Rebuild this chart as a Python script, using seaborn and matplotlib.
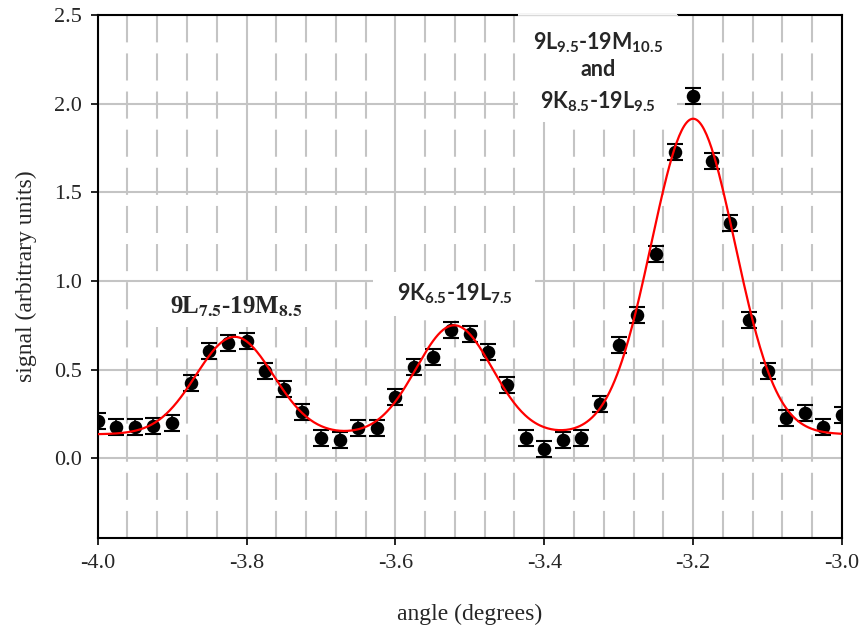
import numpy as np
import pandas as pd
import matplotlib
matplotlib.use("Agg")
import matplotlib.pyplot as plt
from matplotlib.ticker import MultipleLocator, FormatStrFormatter
from matplotlib.patches import Rectangle
import seaborn as sns

# Measured signal versus angle, with a constant uncertainty
angle = [-4.000, -3.975, -3.950, -3.925, -3.900, -3.875, -3.850, -3.825, -3.800,
         -3.775, -3.750, -3.725, -3.700, -3.675, -3.650, -3.625, -3.600, -3.575,
         -3.550, -3.525, -3.500, -3.475, -3.450, -3.425, -3.400, -3.375, -3.350,
         -3.325, -3.300, -3.275, -3.250, -3.225, -3.200, -3.175, -3.150, -3.125,
         -3.100, -3.075, -3.050, -3.025, -3.000]
signal = [0.212, 0.175, 0.178, 0.184, 0.197, 0.423, 0.606, 0.652, 0.664,
          0.494, 0.389, 0.259, 0.115, 0.103, 0.169, 0.173, 0.348, 0.517,
          0.573, 0.726, 0.701, 0.598, 0.414, 0.116, 0.051, 0.103, 0.116,
          0.305, 0.639, 0.809, 1.153, 1.730, 2.041, 1.678, 1.326, 0.782,
          0.494, 0.229, 0.254, 0.178, 0.244]
signal_err = 0.045

# Three-Gaussian fit on a flat background
fit_baseline = 0.135
peak_centers = [-3.816, -3.521, -3.200]
peak_heights = [0.550, 0.615, 1.780]
peak_widths = [0.052, 0.051, 0.056]

# Peak assignments
peak_labels = [r"9L$_{\mathbf{7.5}}$-19M$_{\mathbf{8.5}}$",
               r"9K$_{\mathbf{6.5}}$-19L$_{\mathbf{7.5}}$"]
top_label_lines = [r"9L$_{\mathbf{9.5}}$-19M$_{\mathbf{10.5}}$",
                   "and",
                   r"9K$_{\mathbf{8.5}}$-19L$_{\mathbf{9.5}}$"]

x_ticks = [-4.0, -3.8, -3.6, -3.4, -3.2, -3.0]
y_ticks = [0.0, 0.5, 1.0, 1.5, 2.0, 2.5]

sns.set_style("ticks")
plt.rcParams["font.family"] = ["Liberation Serif", "DejaVu Serif"]
plt.rcParams["axes.unicode_minus"] = False
plt.rcParams["mathtext.fontset"] = "custom"
plt.rcParams["mathtext.rm"] = "Lato"
plt.rcParams["mathtext.bf"] = "Lato:bold"

data = pd.DataFrame({"angle": angle, "signal": signal})
x_fit = np.linspace(-4.0, -3.0, 600)
y_fit = np.full_like(x_fit, fit_baseline)
for c, h, w in zip(peak_centers, peak_heights, peak_widths):
    y_fit += h * np.exp(-0.5 * ((x_fit - c) / w) ** 2)
fit = pd.DataFrame({"angle": x_fit, "signal": y_fit})

fig = plt.figure(figsize=(8.62, 6.28), dpi=100)
ax = fig.add_axes([0.1133, 0.1438, 0.8635, 0.8323])

ax.set_xlim(-4.0, -3.0)
ax.set_ylim(-0.448, 2.5)
ax.set_xticks(x_ticks)
ax.set_yticks(y_ticks)
ax.xaxis.set_minor_locator(MultipleLocator(0.04))
ax.xaxis.set_major_formatter(FormatStrFormatter("%.1f"))
ax.yaxis.set_major_formatter(FormatStrFormatter("%.1f"))

grid_color = "#c4c4c4"
ax.set_axisbelow(True)
ax.grid(which="major", axis="both", color=grid_color, lw=1.5, ls="-")
ax.grid(which="minor", axis="x", color=grid_color, lw=1.5, ls=(0, (13, 5.3)))

for s in ax.spines.values():
    s.set_color("black")
    s.set_linewidth(1.5)
ax.tick_params(which="major", direction="out", length=5, width=1.2,
               color="black", labelsize=16, pad=6.5)
ax.tick_params(which="minor", length=0)

# white label backgrounds over the grid
boxes = [(-3.943, 0.741, 0.242, 0.254, 1.2),
         (-3.630, 0.803, 0.217, 0.248, 1.2),
         (-3.435, 1.898, 0.213, 0.61, 2.6)]
for x0, y0, w, h, z in boxes:
    ax.add_patch(Rectangle((x0, y0), w, h, facecolor="white", edgecolor="none",
                           zorder=z, clip_on=False))
# faint trace of the frame behind the top label
ax.plot([-3.435, -3.222], [2.5, 2.5], color="#d8d8d8", lw=1.0,
        zorder=2.7, clip_on=False)

ax.errorbar(angle, signal, yerr=signal_err, fmt="none", ecolor="black",
            elinewidth=1.2, capsize=5.8, capthick=1.5, zorder=3)
sns.scatterplot(data=data, x="angle", y="signal", ax=ax, color="black",
                s=95, edgecolor="black", linewidth=0, zorder=4, legend=False)
sns.lineplot(data=fit, x="angle", y="signal", ax=ax, color="red", lw=1.6,
             zorder=5, legend=False)

ax.text(-3.814, 0.817, peak_labels[0], fontsize=18, fontweight="bold",
        family="Liberation Serif", math_fontfamily="stix",
        ha="center", va="baseline", zorder=6)
ax.text(-3.520, 0.889, peak_labels[1], fontsize=15.5, fontweight="bold",
        family="Lato", math_fontfamily="custom",
        ha="center", va="baseline", zorder=6)
for line, yb in zip(top_label_lines, [2.304, 2.157, 1.975]):
    ax.text(-3.328, yb, line, fontsize=15.5, fontweight="bold",
            family="Lato", math_fontfamily="custom",
            ha="center", va="baseline", zorder=6)

ax.set_xlabel("angle (degrees)", fontsize=17)
ax.set_ylabel("signal (arbitrary units)", fontsize=17)
ax.xaxis.set_label_coords(0.5, -0.146)
ax.xaxis.label.set_va("center")
ax.yaxis.set_label_coords(-0.0963, 0.5)
ax.yaxis.label.set_va("center")

fig.savefig("out.png", dpi=100)
